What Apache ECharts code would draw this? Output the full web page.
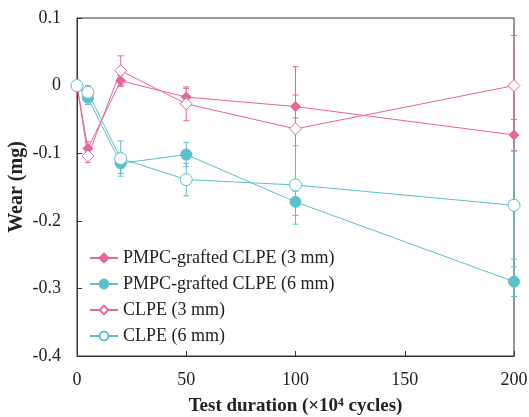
<!DOCTYPE html>
<html><head><meta charset="utf-8">
<script src="https://cdn.jsdelivr.net/npm/echarts@6/dist/echarts.min.js"></script>
<style>html,body{margin:0;padding:0;background:#fff}#c{width:529px;height:417px}</style>
</head><body><div id="c"></div>
<script>
const xs = [0, 5, 20, 50, 100, 200];
const names = ['PMPC-grafted CLPE (3 mm)', 'PMPC-grafted CLPE (6 mm)', 'CLPE (3 mm)', 'CLPE (6 mm)'];
const pmpc3 = [0, -0.093, 0.007, -0.017, -0.031, -0.073];
const pmpc3Err = [0, 0.01, 0.008, 0.013, 0.017, 0.023];
const pmpc6 = [0, -0.018, -0.115, -0.102, -0.172, -0.29];
const pmpc6Err = [0, 0.01, 0.015, 0.018, 0.02, 0.022];
const clpe3 = [0, -0.104, 0.022, -0.027, -0.064, 0];
const clpe3Err = [0, 0.01, 0.022, 0.025, 0.092, 0.074];
const clpe6 = [0, -0.01, -0.108, -0.139, -0.147, -0.177];
const clpe6Err = [0, 0.01, 0.026, 0.024, 0.058, 0.08];
const yTicks = [0.1, 0, -0.1, -0.2, -0.3, -0.4];
const xTicks = [0, 50, 100, 150, 200];

const PINK = '#e8659a', CYAN = '#5cc0cc';
const font = 'Liberation Serif';

function pairs(v) { return xs.map((x, i) => [x, v[i]]); }
function errData(v, e) { return xs.map((x, i) => [x, v[i] - e[i], v[i] + e[i]]); }

function lineSeries(name, vals, color, symbol, filled, size) {
  return {
    name, type: 'line', data: pairs(vals), clip: false, z: 3,
    symbol, symbolSize: size,
    lineStyle: { color, width: 1 },
    itemStyle: { color: filled ? color : '#fff', borderColor: color, borderWidth: 1 }
  };
}
function errSeries(vals, err, color) {
  return {
    type: 'custom', data: errData(vals, err), clip: false, z: 2, silent: true,
    renderItem(params, api) {
      const x = api.value(0);
      const lo = api.coord([x, api.value(1)]);
      const hi = api.coord([x, api.value(2)]);
      const w = 3;
      const st = { stroke: color, lineWidth: 1 };
      return { type: 'group', children: [
        { type: 'line', shape: { x1: lo[0], y1: lo[1], x2: hi[0], y2: hi[1] }, style: st },
        { type: 'line', shape: { x1: lo[0] - w, y1: lo[1], x2: lo[0] + w, y2: lo[1] }, style: st },
        { type: 'line', shape: { x1: hi[0] - w, y1: hi[1], x2: hi[0] + w, y2: hi[1] }, style: st }
      ]};
    }
  };
}

const chart = echarts.init(document.getElementById('c'));
chart.setOption({
  animation: false,
  backgroundColor: '#fff',
  grid: { left: 77, right: 15, top: 18, bottom: 61, show: true, borderColor: '#333', borderWidth: 1,
    containLabel: false, outerBoundsMode: 'none' },
  legend: {
    data: names, orient: 'vertical', left: 84, top: 244, itemGap: 8, itemWidth: 28, itemHeight: 11,
    textStyle: { fontFamily: font, fontSize: 18, color: '#222' }
  },
  xAxis: {
    type: 'value', min: xTicks[0], max: xTicks[xTicks.length - 1], interval: 50,
    axisLine: { onZero: false, lineStyle: { color: '#333' } },
    axisTick: { inside: true, length: 5, lineStyle: { color: '#333' } },
    splitLine: { show: false },
    axisLabel: { fontFamily: font, fontSize: 18, color: '#222', margin: 15, hideOverlap: false },
    name: 'Test duration (×10⁴ cycles)', nameLocation: 'middle', nameGap: 41, nameMoveOverlap: false,
    nameTextStyle: { fontFamily: font, fontSize: 19, fontWeight: 'bold', color: '#222' }
  },
  yAxis: {
    type: 'value', min: yTicks[yTicks.length - 1], max: yTicks[0], interval: 0.1,
    axisLine: { onZero: false, lineStyle: { color: '#333' } },
    axisTick: { inside: true, length: 5, lineStyle: { color: '#333' } },
    splitLine: { show: false },
    axisLabel: { fontFamily: font, fontSize: 18, color: '#222', margin: 16,
      formatter: v => Math.abs(v) < 1e-9 ? '0' : v.toFixed(1) },
    name: 'Wear (mg)', nameLocation: 'middle', nameGap: 50, nameRotate: 90, nameMoveOverlap: false,
    nameTextStyle: { fontFamily: font, fontSize: 20, fontWeight: 'bold', color: '#222' }
  },
  series: [
    errSeries(pmpc3, pmpc3Err, PINK),
    errSeries(pmpc6, pmpc6Err, CYAN),
    errSeries(clpe3, clpe3Err, PINK),
    errSeries(clpe6, clpe6Err, CYAN),
    lineSeries(names[0], pmpc3, PINK, 'diamond', true, 10),
    lineSeries(names[1], pmpc6, CYAN, 'circle', true, 11),
    lineSeries(names[2], clpe3, PINK, 'diamond', false, 12),
    lineSeries(names[3], clpe6, CYAN, 'circle', false, 12)
  ]
});
</script></body></html>
